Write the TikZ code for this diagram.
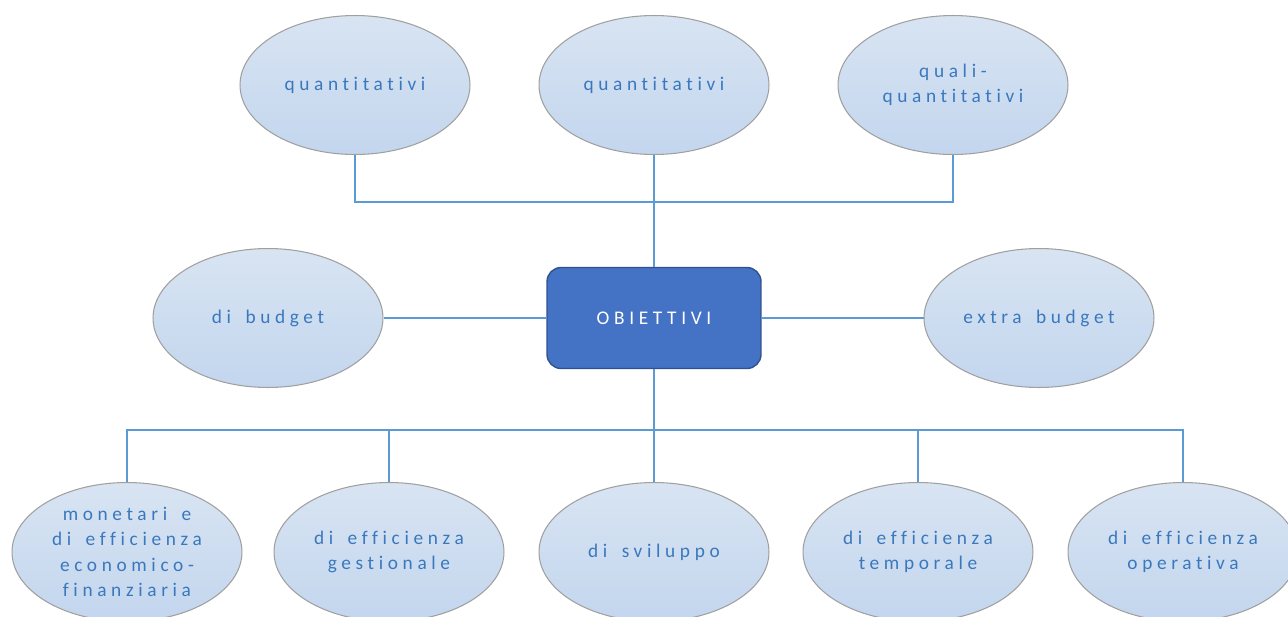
\documentclass[tikz,border=0pt]{standalone}
\usepackage{fontspec}
\setmainfont{Carlito}[LetterSpace=24,WordSpace=1.6,Ligatures={NoCommon},RawFeature=-liga]
\usepackage{tikz}
\usetikzlibrary{shapes.geometric}

\definecolor{ovaltop}{HTML}{D8E4F2}
\definecolor{ovalbot}{HTML}{C3D6EE}
\definecolor{ovalline}{HTML}{A0A0A0}
\definecolor{ovaltext}{HTML}{3A78BE}
\definecolor{boxfill}{HTML}{4472C4}
\definecolor{boxline}{HTML}{2F528F}
\definecolor{linkblue}{HTML}{5B9BD5}

\begin{document}
\begin{tikzpicture}[x=0.02cm,y=-0.02cm]
    \tikzstyle{edge}=[draw=linkblue,line width=1.1pt,-]
    \tikzstyle{oval}=[ellipse,draw=ovalline,line width=0.6pt,top color=ovaltop,bottom color=ovalbot,
        minimum width=4.6cm,minimum height=2.78cm,inner sep=0pt,align=center,
        text=ovaltext,font=\fontsize{11}{14.5}\selectfont]
    \tikzstyle{box}=[rectangle,rounded corners=8pt,draw=boxline,line width=0.8pt,fill=boxfill,
        minimum width=4.28cm,minimum height=2.02cm,text=white,font=\fontsize{11}{14.5}\selectfont]

    \useasboundingbox (0,0) rectangle (1288,616);
    \clip (0,0) rectangle (1288,616);

    \def\ytop{85}
    \def\ymid{318}
    \def\ybot{552}

    \node[box]  (obj)    at (654,\ymid) {OBIETTIVI};

    \node[oval] (q1)     at (355,\ytop) {quantitativi};
    \node[oval] (q2)     at (654,\ytop) {quantitativi};
    \node[oval] (q3)     at (953,\ytop) {quali-\\quantitativi};

    \node[oval] (budget) at (268,\ymid) {di budget};
    \node[oval] (extra)  at (1039,\ymid) {extra budget};

    \node[oval] (b1)     at (127,\ybot) {monetari e\\di efficienza\\economico-\\finanziaria};
    \node[oval] (b2)     at (389,\ybot) {di efficienza\\gestionale};
    \node[oval] (b3)     at (654,\ybot) {di sviluppo};
    \node[oval] (b4)     at (918,\ybot) {di efficienza\\temporale};
    \node[oval] (b5)     at (1183,\ybot) {di efficienza\\operativa};

    \coordinate (topbus) at (654,202);
    \coordinate (botbus) at (654,430);

    \path[edge,line width=0.9pt] (q1.south) |- (topbus) -| (q3.south);
    \path[edge] (q2) -- (obj);

    \path[edge] (budget) -- (obj);
    \path[edge] (obj) -- (extra);

    \path[edge] (obj) -- (b3);
    \path[edge] (b1.north) |- (botbus) -| (b5.north);
    \path[edge] (b2.north) -- (b2.north |- botbus);
    \path[edge] (b4.north) -- (b4.north |- botbus);
\end{tikzpicture}
\end{document}
